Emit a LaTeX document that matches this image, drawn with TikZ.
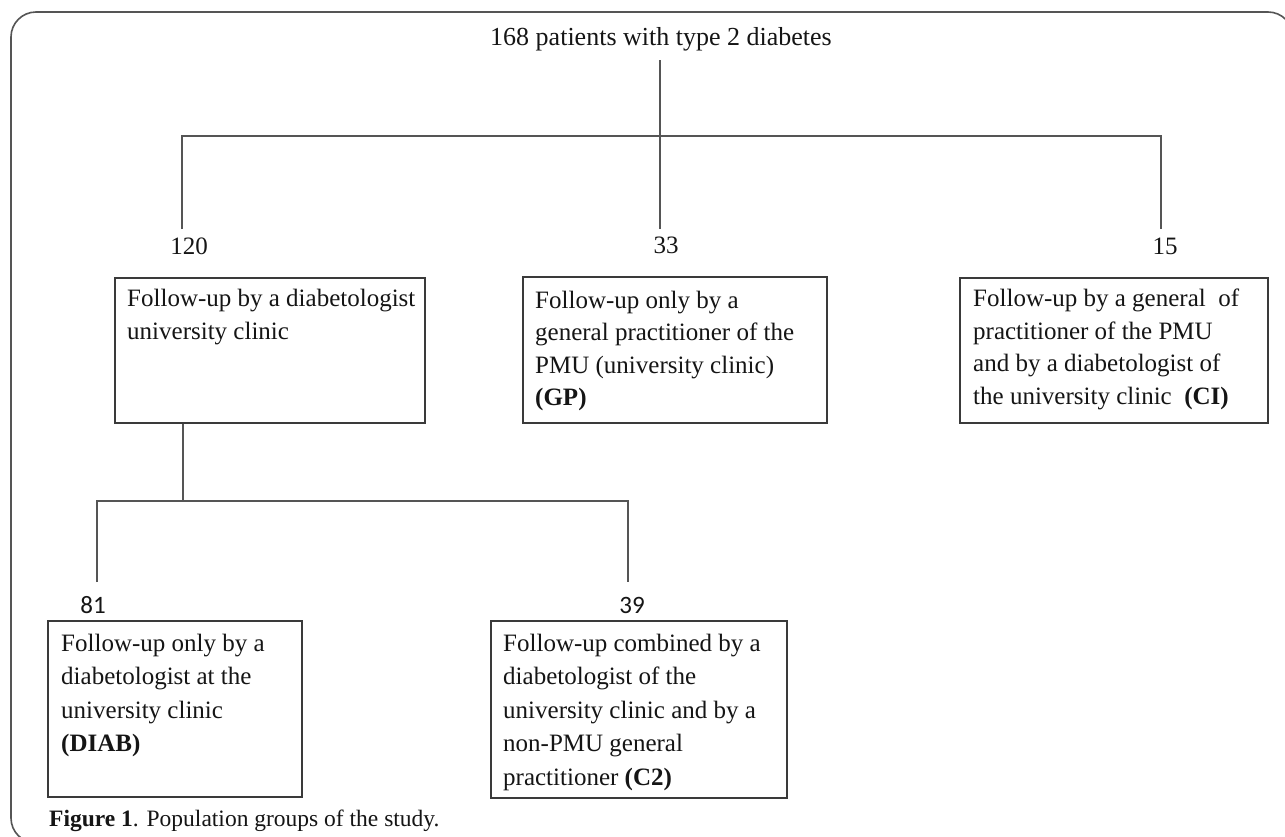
\documentclass[tikz,border=0pt]{standalone}
\usepackage{fontspec}
\setmainfont{Liberation Serif}
\newfontfamily\calibfont{Carlito}
\definecolor{linegray}{HTML}{555555}
\definecolor{boxgray}{HTML}{3A3A3A}
\definecolor{framegray}{HTML}{555555}
\definecolor{txt}{HTML}{151515}
\begin{document}
\begin{tikzpicture}[x=1pt,y=-1pt,
  frame/.style={draw=framegray,line width=1.6pt,rounded corners=25pt},
  conn/.style={draw=linegray,line width=1.5pt},
  boxnode/.style={draw=boxgray,line width=1.5pt,rectangle,inner sep=0pt,anchor=north west},
  boxtext/.style={inner sep=0pt,anchor=north west,align=left,text=txt,font=\fontsize{25}{32.5}\selectfont},
  lowtext/.style={boxtext,font=\fontsize{25}{33.4}\selectfont},
  numser/.style={inner sep=0pt,anchor=base,text=txt,font=\fontsize{25}{30}\selectfont},
  numsans/.style={inner sep=0pt,anchor=base,text=txt,font=\calibfont\fontsize{25}{30}\selectfont}]
\useasboundingbox (0,0) rectangle (1285,836);
\clip (0,0) rectangle (1285,836);
\fill[white] (0,0) rectangle (1285,836);
% outer frame
\draw[frame] (1293,900) -- (1293,12) -- (11,12) -- (11,843) -- (1310,843);
% title
\node[inner xsep=0pt,inner ysep=0pt,anchor=base,text=txt,font=\fontsize{26}{31}\selectfont] (title) at (661,45) {168 patients with type 2 diabetes};
% coordinates of the first tree
\coordinate (top) at (660,60);
\coordinate (bar) at (660,136);
\coordinate (e120) at (182,229);
\coordinate (e33) at (660,229);
\coordinate (e15) at (1161,229);
\draw[conn] (top) -- (e33);
\draw[conn] (e120) -- (e120 |- bar) -- (e15 |- bar) -- (e15);
% numbers
\node[numser] (n120) at (189,254) {120};
\node[numser] (n33) at (666,253) {33};
\node[numser] (n15) at (1165,254) {15};
% boxes level 1
\node[boxnode,minimum width=310pt,minimum height=145pt] (b1) at (114,277) {};
\node[boxnode,minimum width=304pt,minimum height=146pt] (b2) at (522,276) {};
\node[boxnode,minimum width=308pt,minimum height=145pt] (b3) at (959,277) {};
\node[boxtext] (t1) at (127,289) {Follow-up by a diabetologist\\university clinic};
\node[boxtext] (t2) at (535,290.5) {Follow-up only by a\\general practitioner of the\\PMU (university clinic)\\\textbf{(GP)}};
\node[boxtext] (t3) at (973,289) {Follow-up by a general\ \ of\\practitioner of the PMU\\and by a diabetologist of\\the university clinic\ \ \textbf{(CI)}};
% second tree
\coordinate (bar2) at (183,501);
\coordinate (e81) at (97,582);
\coordinate (e39) at (628,582);
\draw[conn] (b1.south west -| bar2) -- (bar2);
\draw[conn] (e81) -- (e81 |- bar2) -- (e39 |- bar2) -- (e39);
\node[numsans] (n81) at (93,613) {81};
\node[numsans] (n39) at (632,613) {39};
% boxes level 2
\node[boxnode,minimum width=254pt,minimum height=176pt] (b4) at (47,620) {};
\node[boxnode,minimum width=296pt,minimum height=177pt] (b5) at (490,620) {};
\node[lowtext] (t4) at (61,634) {Follow-up only by a\\diabetologist at the\\university clinic\\\textbf{(DIAB)}};
\node[lowtext] (t5) at (503,634) {Follow-up combined by a\\diabetologist of the\\university clinic and by a\\non-PMU general\\practitioner \textbf{(C2)}};
% caption
\node[inner sep=0pt,anchor=base west,text=txt,font=\fontsize{23.5}{28}\selectfont] (cap) at (49,826) {\textbf{Figure 1}. Population groups of the study.};
\end{tikzpicture}
\end{document}
